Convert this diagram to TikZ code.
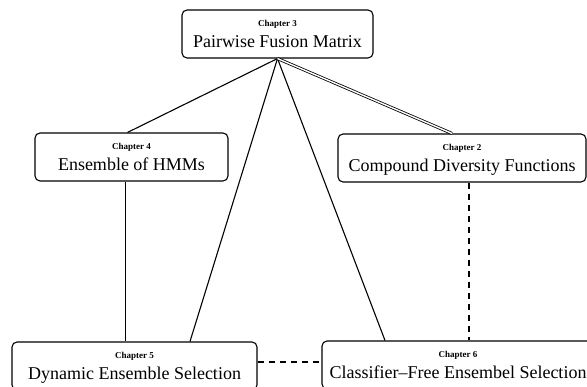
\documentclass[tikz,border=0pt]{standalone}
\usepackage{fontspec}
\setmainfont{Liberation Serif}
\newcommand{\chapno}[1]{\rule{0pt}{17pt}{\fontsize{9}{10}\selectfont\bfseries Chapter #1}}
\newcommand{\chaptitle}[1]{#1\rule[-10.5pt]{0pt}{10.5pt}}

\begin{document}
\begin{tikzpicture}[x=1pt,y=-1pt,
  chapbox/.style={shape=rectangle,draw=black,rounded corners=5pt,line width=1.1pt,
    align=center,inner ysep=0pt,minimum height=48pt,font=\fontsize{18}{20.5}\selectfont},
  link/.style={line width=1.1pt},
  weak/.style={line width=1.1pt,dash pattern=on 6pt off 5pt}]
\useasboundingbox (0,0) rectangle (587,387);

\node[chapbox,minimum width=191pt] (C3) at (277.5,34) {\chapno{3}\\\chaptitle{Pairwise Fusion Matrix}};
\node[chapbox,minimum width=193pt] (C4) at (131.5,157) {\chapno{4}\\\chaptitle{Ensemble of HMMs}};
\node[chapbox,minimum width=248pt] (C2) at (462,158) {\chapno{2}\\\chaptitle{Compound Diversity Functions}};
\node[chapbox,minimum width=245pt] (C5) at (134.5,366) {\chapno{5}\\\chaptitle{Dynamic Ensemble Selection}};
\node[chapbox,minimum width=272pt] (C6) at (458,365) {\chapno{6}\\\chaptitle{Classifier--Free Ensembel Selection}};

\coordinate (v4) at ([xshift=-6pt]C4.south);
\coordinate (v2) at ([xshift=7pt]C2.south);
\coordinate (h5) at ([yshift=4pt]C5.east);

\draw[link] (C3.south) -- ([xshift=-4pt]C4.north);
\draw[link] (C3.south) -- ([xshift=55.5pt]C5.north);
\draw[link] (C3.south) -- ([xshift=-73pt]C6.north);
\draw[line width=0.8pt,double,double distance=1.4pt] (C3.south) -- ([xshift=-10pt]C2.north);
\draw[link] (v4) -- (v4 |- C5.north);
\draw[weak] (v2) -- (v2 |- C6.north);
\draw[weak] (h5) -- (h5 -| C6.west);
\end{tikzpicture}
\end{document}
